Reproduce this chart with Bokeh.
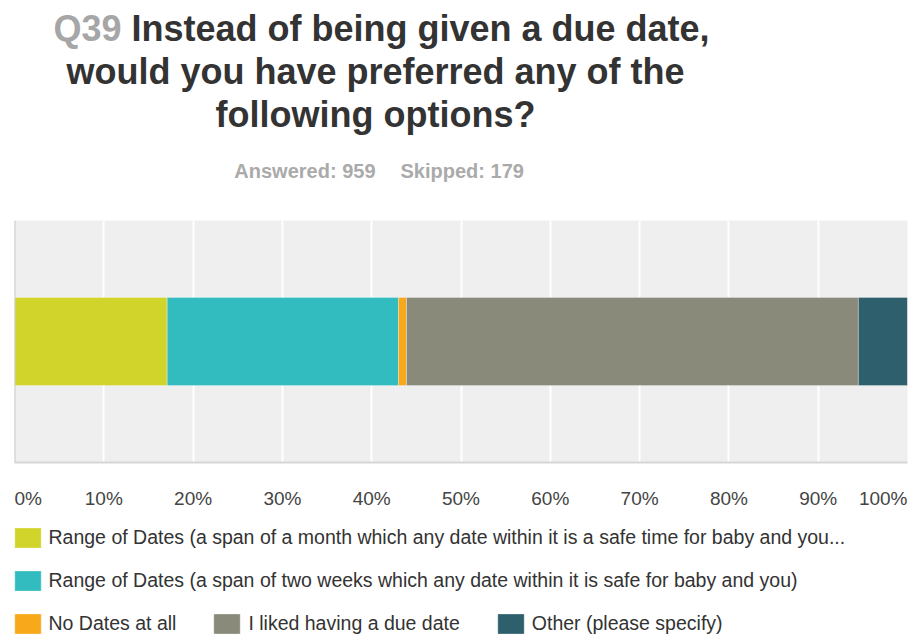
from bokeh.plotting import figure
from bokeh.layouts import column
from bokeh.models import (Range1d, FactorRange, FixedTicker, Legend, LegendItem,
                          Label, Span, ColumnDataSource)
from bokeh.core.properties import value, field
from bokeh.embed import file_html
from bokeh.resources import INLINE

# ---------------- data ----------------
question_no = "Q39"
title_lines = ["Instead of being given a due date,",
               "would you have preferred any of the",
               "following options?"]
answered = 959
skipped = 179
categories = ["Q39"]
options = [
    "Range of Dates (a span of a month which any date within it is a safe time for baby and you...",
    "Range of Dates (a span of two weeks which any date within it is safe for baby and you)",
    "No Dates at all",
    "I liked having a due date",
    "Other (please specify)",
]
values = [17.1, 25.9, 0.9, 50.6, 5.5]
colors = ["#d1d52b", "#33bcbf", "#f7a81b", "#898a7a", "#2e5f6c"]
tick_values = [0, 10, 20, 30, 40, 50, 60, 70, 80, 90, 100]
tick_labels = ["0%", "10%", "20%", "30%", "40%", "50%", "60%", "70%", "80%", "90%", "100%"]

FONT = "Liberation Sans"
W = 909
LEFT, RIGHT = 14, 2          # plot-area borders (px); frames of the column are aligned
HEADER_H, PLOT_H, FOOT_H = 220, 242, 173

keys = ["s%d" % i for i in range(len(values))]
data = {"cat": categories}
for k, v in zip(keys, values):
    data[k] = [v]
source = ColumnDataSource(data)

x_range = Range1d(tick_values[0], tick_values[-1])

# ---------------- header (title + counts) ----------------
hdr = figure(width=W, height=HEADER_H, x_range=x_range, y_range=Range1d(0, HEADER_H),
             output_backend="svg", toolbar_location=None,
             x_axis_location=None, y_axis_location=None,
             min_border_left=LEFT, min_border_right=RIGHT,
             min_border_top=0, min_border_bottom=0, outline_line_color=None,
             background_fill_color="white", border_fill_color="white")
hdr.grid.visible = False

def lab(text, page_x, baseline_y, size_px, color, align="left"):
    # screen units are relative to the frame (x from its left, y up from its bottom)
    hdr.add_layout(Label(x=page_x - LEFT, y=HEADER_H - baseline_y + 0.36 * size_px,
                         x_units="screen", y_units="screen", text=text,
                         text_font=FONT, text_font_size="%gpx" % size_px,
                         text_font_style="bold",
                         text_color=color, text_align=align,
                         text_baseline="alphabetic"))

lab(question_no, 121, 41.3, 36, "#a6a6a6", "right")
lab(title_lines[0], 131, 41.3, 36, "#333333", "left")
lab(title_lines[1], 375, 84.3, 36, "#333333", "center")
lab(title_lines[2], 375, 127.3, 36, "#333333", "center")
lab("Answered: %d" % answered, 375, 177.3, 20, "#aaaaaa", "right")
lab("Skipped: %d" % skipped, 400, 177.3, 20, "#aaaaaa", "left")

# ---------------- bar chart ----------------
p = figure(width=W, height=PLOT_H + 2,
           x_range=x_range, y_range=FactorRange(*categories),
           output_backend="svg", toolbar_location=None,
           y_axis_location=None,
           min_border_left=LEFT, min_border_right=RIGHT,
           min_border_top=0, min_border_bottom=2,
           background_fill_color="#efefef", border_fill_color="white",
           outline_line_color=None)

renderers = p.hbar_stack(keys, y="cat", height=0.364, color=colors, source=source,
                         line_color="white", line_alpha=0.3, line_width=1)

ax = p.xaxis[0]
ax.ticker = FixedTicker(ticks=tick_values)
ax.major_label_overrides = {t: "" for t in tick_values}
ax.major_label_text_font_size = "0px"
ax.major_label_standoff = 0
ax.major_tick_line_color = None
ax.minor_tick_line_color = None
ax.major_tick_out = 0
ax.major_tick_in = 0
ax.axis_line_color = "#d6d6d6"
ax.axis_line_width = 2

p.xgrid.grid_line_color = "white"
p.xgrid.grid_line_width = 2
p.ygrid.grid_line_color = None
p.add_layout(Span(location=tick_values[0], dimension="height",
                  line_color="#cccccc", line_width=2))

# ---------------- tick labels + legend ----------------
q = figure(width=W, height=FOOT_H, x_range=x_range, y_range=Range1d(0, FOOT_H),
           output_backend="svg", toolbar_location=None,
           x_axis_location=None, y_axis_location=None,
           min_border_left=LEFT, min_border_right=RIGHT,
           min_border_top=0, min_border_bottom=0, outline_line_color=None,
           background_fill_color="white", border_fill_color="white")
q.grid.visible = False

aligns = ["left"] + ["center"] * (len(tick_values) - 2) + ["right"]
tsrc = ColumnDataSource(dict(x=tick_values, y=[FOOT_H - 41.3 + 0.36 * 19] * len(tick_values),
                             text=tick_labels, align=aligns))
q.text(x="x", y="y", text="text", source=tsrc, text_align=field("align"),
       text_baseline="alphabetic", text_font=value(FONT), text_font_size="19px",
       text_color="#444444")

hidden = q.hbar_stack(keys, y=0, height=1, color=colors, source=source,
                      line_color="white", line_alpha=0.3, line_width=1)
for r in hidden:
    r.visible = False

def make_legend(idx, vy, orientation="vertical"):
    items = [LegendItem(label=options[i], renderers=[hidden[i]]) for i in idx]
    return Legend(items=items, orientation=orientation, location=(-3.5, vy),
                  margin=0, padding=0, spacing=34,
                  glyph_width=33, glyph_height=25, label_standoff=5,
                  label_text_font=FONT, label_text_font_size="19.5px",
                  label_text_color="#333333", click_policy="none",
                  border_line_color=None, background_fill_alpha=0,
                  inactive_fill_alpha=0)

q.add_layout(make_legend([0], 87.5))
q.add_layout(make_legend([1], 44.5))
q.add_layout(make_legend([2, 3, 4], 1.5, "horizontal"))

layout = column(hdr, p, q, spacing=0)
open("out.html", "w").write(file_html(layout, INLINE))
